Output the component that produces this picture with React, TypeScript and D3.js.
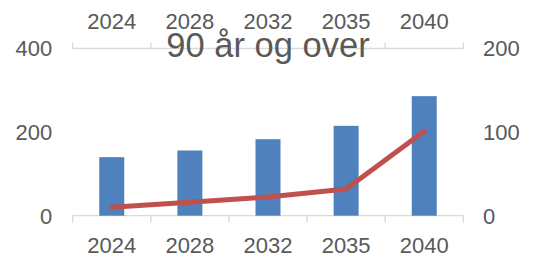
import React from "react";
import * as d3 from "d3";

const categories = ["2024", "2028", "2032", "2035", "2040"];
const barValues = [140, 156, 183, 215, 286];
const lineValues = [10, 16, 22.5, 32, 101];
const leftTicks = [0, 200, 400];
const rightTicks = [0, 100, 200];
const title = "90 år og over";

export default function App() {
  const W = 557, H = 254;
  const x0 = 72.7, x1 = 463.3, yTop = 48.5, yBot = 215.7;
  const x = d3.scaleBand<string>().domain(categories).range([x0, x1]).paddingInner(0).paddingOuter(0);
  const yL = d3.scaleLinear().domain([0, 400]).range([yBot, yTop]);
  const yR = d3.scaleLinear().domain([0, 200]).range([yBot, yTop]);
  const barW = 25;
  const line = d3
    .line<number>()
    .x((_, i) => (x(categories[i]) as number) + x.bandwidth() / 2)
    .y((d) => yR(d));
  const font = "'Liberation Sans', Arial, sans-serif";
  const txt = "#595959";
  const axisCol = "#d9d9d9";
  const fs = 22;
  const boundaries = d3.range(categories.length + 1).map((i) => x0 + i * x.bandwidth());
  return (
    <svg width={W} height={H} style={{ position: "absolute", left: 0, top: 0 }} fontFamily={font}>
      <rect width={W} height={H} fill="#fff" />
      <line x1={x0} x2={x1} y1={yTop} y2={yTop} stroke={axisCol} strokeWidth={1.3} />
      {boundaries.map((b, i) => (
        <line key={"tt" + i} x1={b} x2={b} y1={yTop} y2={yTop - 6} stroke={axisCol} strokeWidth={1.3} />
      ))}
      <line x1={x0} x2={x1} y1={yBot} y2={yBot} stroke={axisCol} strokeWidth={1.3} />
      {boundaries.map((b, i) => (
        <line key={"bt" + i} x1={b} x2={b} y1={yBot} y2={yBot + 7} stroke={axisCol} strokeWidth={1.3} />
      ))}
      {barValues.map((v, i) => (
        <rect
          key={"b" + i}
          x={(x(categories[i]) as number) + x.bandwidth() / 2 - barW / 2}
          y={yL(v)}
          width={barW}
          height={yBot - yL(v)}
          fill="#4f81bd"
        />
      ))}
      <path d={line(lineValues) as string} fill="none" stroke="#c0504d" strokeWidth={5} strokeLinejoin="round" strokeLinecap="round" />
      {categories.map((c) => (
        <text key={"tl" + c} x={(x(c) as number) + x.bandwidth() / 2} y={29} textAnchor="middle" fontSize={fs} fill={txt}>
          {c}
        </text>
      ))}
      {categories.map((c) => (
        <text key={"bl" + c} x={(x(c) as number) + x.bandwidth() / 2} y={252.5} textAnchor="middle" fontSize={fs} fill={txt}>
          {c}
        </text>
      ))}
      {leftTicks.map((t) => (
        <text key={"l" + t} x={52.3} y={yL(t)} dy="0.36em" textAnchor="end" fontSize={fs} fill={txt}>
          {t}
        </text>
      ))}
      {rightTicks.map((t) => (
        <text key={"r" + t} x={483} y={yR(t)} dy="0.36em" textAnchor="start" fontSize={fs} fill={txt}>
          {t}
        </text>
      ))}
      <text x={268} y={57} textAnchor="middle" fontSize={34.5} fill={txt}>
        {title}
      </text>
    </svg>
  );
}
